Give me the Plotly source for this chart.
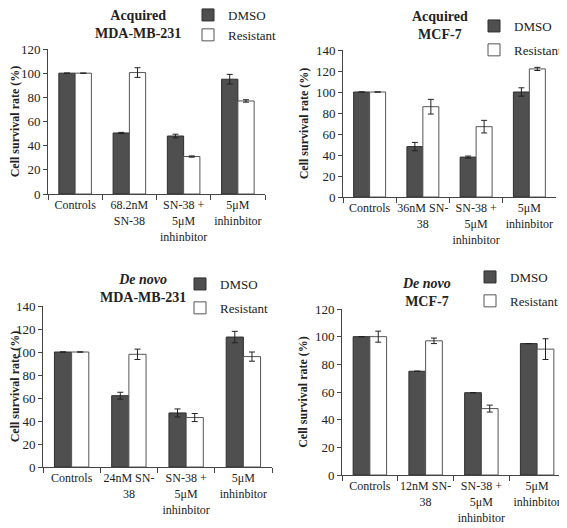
import plotly.graph_objects as go

# ---------------- data ----------------
series_names = ["DMSO", "Resistant"]

p1_title = "Acquired<br>MDA-MB-231"
p1_cats = ["Controls", "68.2nM<br>SN-38", "SN-38 +<br>5μM<br>inhinbitor", "5μM<br>inhinbitor"]
p1_dmso = [100, 50.5, 48, 95]
p1_dmso_err = [0, 0.5, 1.5, 4]
p1_res = [100, 100.5, 31, 77]
p1_res_err = [0, 4, 0.5, 1]
p1_ymax = 120

p2_title = "Acquired<br>MCF-7"
p2_cats = ["Controls", "36nM SN-<br>38", "SN-38 +<br>5μM<br>inhinbitor", "5μM<br>inhinbitor"]
p2_dmso = [100, 48, 38, 100]
p2_dmso_err = [0, 4, 1, 4]
p2_res = [100, 86, 67, 122]
p2_res_err = [0, 7, 6, 1.5]
p2_ymax = 140

p3_title = "<i>De novo</i><br>MDA-MB-231"
p3_cats = ["Controls", "24nM SN-<br>38", "SN-38 +<br>5μM<br>inhinbitor", "5μM<br>inhinbitor"]
p3_dmso = [100, 62, 47, 113]
p3_dmso_err = [0, 3, 3.5, 5]
p3_res = [100, 98, 43, 96]
p3_res_err = [0, 4.5, 3.5, 4]
p3_ymax = 140

p4_title = "<i>De novo</i><br>MCF-7"
p4_cats = ["Controls", "12nM SN-<br>38", "SN-38 +<br>5μM<br>inhinbitor", "5μM<br>inhinbitor"]
p4_dmso = [100, 75, 59.5, 95]
p4_dmso_err = [0, 0, 0, 0]
p4_res = [100, 97, 48, 91]
p4_res_err = [4, 2, 2.5, 7.5]
p4_ymax = 120

ytick_step = 20
y_title = "Cell survival rate (%)"

# ---------------- layout geometry ----------------
# page body has an 8px margin, so the figure starts 8px in from the window edge
OFF = 8
W, H = 567 - OFF, 528 - OFF
FONT = "Liberation Serif"

def px(x):
    return min(1.0, max(0.0, (x - OFF) / W))

def py(y):
    return 1 - (y - OFF) / H

panels = [
    dict(title=p1_title, cats=p1_cats, d=p1_dmso, de=p1_dmso_err, r=p1_res, re=p1_res_err, ymax=p1_ymax,
         xd=(48, 265), yd=(49, 194), tx=138, ty=24, lx=188, ly=0, gap=0),
    dict(title=p2_title, cats=p2_cats, d=p2_dmso, de=p2_dmso_err, r=p2_res, re=p2_res_err, ymax=p2_ymax,
         xd=(343, 556), yd=(50, 197), tx=440, ty=26, lx=474, ly=11, gap=4),
    dict(title=p3_title, cats=p3_cats, d=p3_dmso, de=p3_dmso_err, r=p3_res, re=p3_res_err, ymax=p3_ymax,
         xd=(43, 272), yd=(306, 467), tx=143, ty=288, lx=180, ly=269, gap=4),
    dict(title=p4_title, cats=p4_cats, d=p4_dmso, de=p4_dmso_err, r=p4_res, re=p4_res_err, ymax=p4_ymax,
         xd=(342, 565), yd=(309, 475), tx=426, ty=292, lx=470, ly=262, gap=4),
]

fig = go.Figure()
annotations = []
layout_upd = {}

for i, p in enumerate(panels, start=1):
    xa = "x" if i == 1 else f"x{i}"
    ya = "y" if i == 1 else f"y{i}"
    lg = "legend" if i == 1 else f"legend{i}"
    fig.add_trace(go.Bar(
        x=p["cats"], y=p["d"], name=series_names[0], xaxis=xa, yaxis=ya, legend=lg,
        legendgroup=f"d{i}",
        marker=dict(color="#4f4f4f", line=dict(color="#2e2e2e", width=1)),
        error_y=dict(type="data", array=p["de"], visible=True, color="#222", thickness=1, width=3),
    ))
    fig.add_trace(go.Bar(
        x=p["cats"], y=p["r"], name=series_names[1], xaxis=xa, yaxis=ya, legend=lg,
        legendgroup=f"r{i}",
        marker=dict(color="white", line=dict(color="#555555", width=1)),
        error_y=dict(type="data", array=p["re"], visible=True, color="#222", thickness=1, width=3),
    ))
    xkey = "xaxis" if i == 1 else f"xaxis{i}"
    ykey = "yaxis" if i == 1 else f"yaxis{i}"
    layout_upd[xkey] = dict(
        domain=[px(p["xd"][0]), px(p["xd"][1])], anchor=ya, type="category",
        showline=True, linecolor="#444", linewidth=1, ticks="outside", tickson="boundaries",
        ticklen=5, tickcolor="#444", showgrid=False, zeroline=False, tickangle=0, automargin=False,
        tickfont=dict(family=FONT, size=12, color="#222"),
    )
    layout_upd[ykey] = dict(
        domain=[py(p["yd"][1]), py(p["yd"][0])], anchor=xa, automargin=False,
        range=[0, p["ymax"]], dtick=ytick_step, tick0=0,
        showline=True, linecolor="#444", linewidth=1, ticks="outside", ticklen=4, tickcolor="#444",
        showgrid=False, zeroline=False,
        tickfont=dict(family=FONT, size=13, color="#222"),
        title=dict(text=f"<b>{y_title}</b>", font=dict(family=FONT, size=12, color="#222"), standoff=4),
    )
    layout_upd[lg] = dict(
        x=px(p["lx"]), y=py(p["ly"]), xanchor="left", yanchor="top",
        bgcolor="rgba(0,0,0,0)", borderwidth=0, tracegroupgap=p["gap"],
        font=dict(family=FONT, size=13, color="#222"),
    )
    annotations.append(dict(
        x=px(p["tx"]), y=py(p["ty"]), xref="paper", yref="paper", showarrow=False,
        text=f"<b>{p['title']}</b>", font=dict(family=FONT, size=14, color="#222"),
        xanchor="center", yanchor="middle",
    ))

fig.update_layout(
    width=W, height=H, margin=dict(l=0, r=0, t=0, b=0, autoexpand=False),
    paper_bgcolor="white", plot_bgcolor="white",
    barmode="group", bargap=0.4, bargroupgap=0,
    annotations=annotations, **layout_upd,
)

fig.write_html("out.html")
